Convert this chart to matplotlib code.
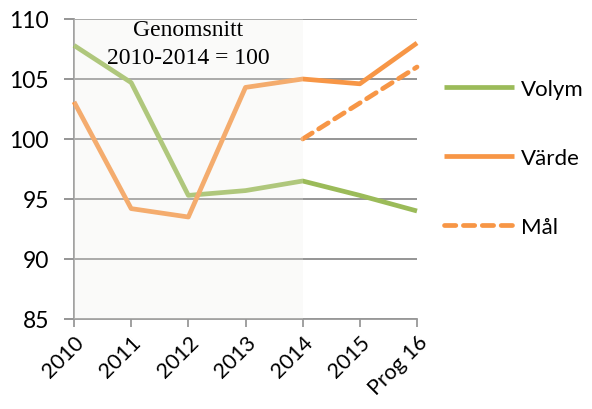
import matplotlib
matplotlib.use("Agg")
import matplotlib.pyplot as plt

categories = ["2010", "2011", "2012", "2013", "2014", "2015", "Prog 16"]
volym = [107.8, 104.7, 95.3, 95.7, 96.5, 95.3, 94.0]
varde = [103.1, 94.2, 93.5, 104.3, 105.0, 104.6, 108.0]
mal_x = [4, 5, 6]
mal = [100.0, 103.0, 106.0]
yticks = [85, 90, 95, 100, 105, 110]

green = "#9BBB59"
orange = "#F79646"
grid = "#8C8C8C"

fig = plt.figure(figsize=(5.92, 4.10), dpi=100)
ax = fig.add_axes([74/592, 1 - 320/410, (417-74)/592, 300/410])

x = list(range(len(categories)))
ax.plot(x, volym, color=green, lw=3.4, label="Volym", solid_capstyle="butt", zorder=3, clip_on=False)
ax.plot(x, varde, color=orange, lw=3.4, label="Värde", solid_capstyle="butt", zorder=3, clip_on=False)
ax.plot(mal_x, mal, color=orange, lw=3.4, ls=(0, (2.4, 1.6)), label="Mål", dash_capstyle="round", zorder=3, clip_on=False)

# shaded base period overlay
ax.axvspan(0, 4, color="#EEEEE8", alpha=0.25, zorder=4, lw=0)

ax.set_xlim(0, 6)
ax.set_ylim(85, 110)
ax.set_yticks(yticks)
ax.set_yticklabels([str(v) for v in yticks], fontsize=16.5, family="Lato")
ax.set_xticks(x)
ax.set_xticklabels(categories, rotation=45, ha="right", rotation_mode="anchor", fontsize=15.5, family="Lato")
ax.yaxis.grid(True, color=grid, lw=1.3)
ax.set_axisbelow(True)
for s in ["top", "right"]:
    ax.spines[s].set_visible(False)
for s in ["left", "bottom"]:
    ax.spines[s].set_color("#999999")
    ax.spines[s].set_linewidth(1.3)
ax.tick_params(axis="y", length=7, color=grid, width=1.3, pad=11)
ax.tick_params(axis="x", length=6, color="#999999", width=1.3, direction="out", pad=3)

ax.text(2, 107.95, "Genomsnitt\n2010-2014 = 100", ha="center", va="center", fontsize=17,
        family="Liberation Serif", linespacing=1.42, zorder=5)

leg = ax.legend(loc="upper left", bbox_to_anchor=(444/592, 1 - 80/410), bbox_transform=fig.transFigure,
                frameon=False, handlelength=3.15, handletextpad=0.3, borderpad=0, borderaxespad=0,
                labelspacing=2.2, prop={"family": "Lato", "size": 16})

fig.savefig("out.png", dpi=100)
